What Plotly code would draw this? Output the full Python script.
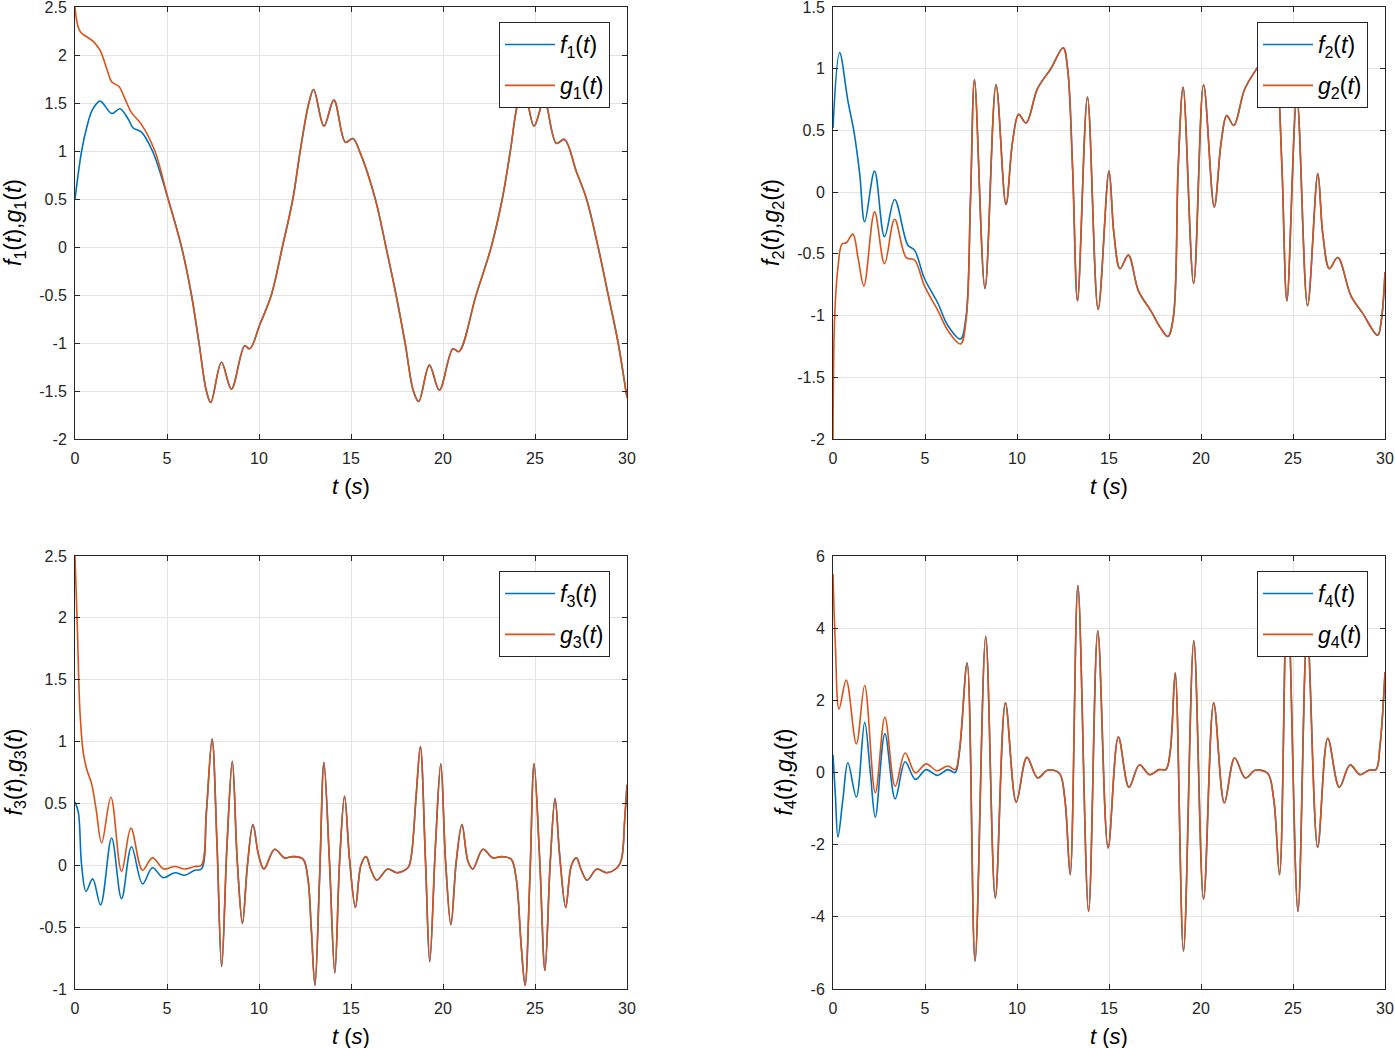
import plotly.graph_objects as go

# ---------------- data ----------------
X_TICKS = [0, 5, 10, 15, 20, 25, 30]
Y1_TICKS = [-2, -1.5, -1, -0.5, 0, 0.5, 1, 1.5, 2, 2.5]
Y2_TICKS = [-2, -1.5, -1, -0.5, 0, 0.5, 1, 1.5]
Y3_TICKS = [-1, -0.5, 0, 0.5, 1, 1.5, 2, 2.5]
Y4_TICKS = [-6, -4, -2, 0, 2, 4, 6]

# --- panel 1 ---
T1_HEAD_F = [0, 0.36, 0.63, 0.95, 1.36, 2.0, 2.44, 2.9, 3.16, 3.6, 4.21]
F1_HEAD = [0.5, 1.0, 1.24, 1.43, 1.52, 1.39, 1.44, 1.33, 1.24, 1.2, 1.0]
T1_HEAD_G = [0, 0.12, 0.3, 1.0, 1.36, 1.72, 2.0, 2.4, 2.7, 3.07, 3.6, 4.34]
G1_HEAD = [2.5, 2.33, 2.24, 2.14, 2.05, 1.86, 1.72, 1.67, 1.55, 1.4, 1.28, 1.0]
T1_TAIL = [5.06, 5.79, 6.33, 6.74, 7.14, 7.38, 7.96, 8.5, 9.22, 9.5, 10.04, 10.67,
           11.27, 11.84, 12.24, 12.71, 12.97, 13.53, 14.07, 14.7, 15.1, 15.5, 16.32,
           16.9, 17.45, 17.94, 18.39, 18.68, 19.26, 19.8, 20.54, 20.86, 21.8, 22.62,
           23.22, 23.66, 24.07, 24.4, 24.95, 25.5, 26.16, 26.6, 27.24, 27.8, 28.43,
           28.98, 29.52, 29.94, 30.0]
V1_TAIL = [0.5, 0.0, -0.5, -1.0, -1.5, -1.62, -1.2, -1.48, -1.03, -1.06, -0.81, -0.5,
           0.0, 0.5, 1.0, 1.5, 1.64, 1.26, 1.53, 1.09, 1.13, 0.98, 0.5,
           0.0, -0.5, -1.0, -1.5, -1.61, -1.23, -1.49, -1.06, -1.09, -0.5, 0.0,
           0.5, 1.0, 1.5, 1.64, 1.26, 1.53, 1.08, 1.12, 0.79, 0.5, 0.0,
           -0.5, -1.0, -1.5, -1.57]

# --- panel 2 ---
T2_HEAD_F = [0, 0.36, 0.81, 1.14, 1.45, 1.72, 2.26, 2.8, 3.35, 4.07, 4.43, 4.97,
             5.7, 6.24, 6.93, 7.23]
F2_HEAD = [0.52, 1.13, 0.74, 0.49, 0.15, -0.24, 0.17, -0.36, -0.06, -0.43, -0.47, -0.7,
           -0.9, -1.08, -1.19, -1.01]
T2_HEAD_G = [0, 0.09, 0.27, 0.49, 0.72, 1.08, 1.36, 1.68, 2.26, 2.8, 3.35, 3.98, 4.43,
             4.97, 5.7, 6.24, 6.93, 7.23]
G2_HEAD = [-2.0, -1.01, -0.61, -0.42, -0.41, -0.34, -0.53, -0.76, -0.16, -0.58, -0.22,
           -0.53, -0.55, -0.76, -0.96, -1.12, -1.23, -1.04]
T2_TAIL = [7.47, 7.69, 8.26, 8.86, 9.4, 9.76, 10.09, 10.49, 11.12, 11.84, 12.51, 12.75,
           13.02, 13.29, 13.83, 14.41, 15.0, 15.27, 15.6, 16.05, 16.6, 17.27, 17.8, 18.2,
           18.5, 18.76, 19.03, 19.6, 20.14, 20.72, 21.1, 21.4, 21.78, 22.36, 22.9, 23.89,
           24.13, 24.4, 24.67, 25.21, 25.79, 26.35, 26.62, 26.98, 27.43, 28.15, 28.78,
           29.6, 29.8, 30.0]
V2_TAIL = [-0.07, 0.91, -0.78, 0.87, -0.1, 0.41, 0.63, 0.56, 0.84, 1.0, 1.17, 1.0,
           0.2, -0.88, 0.77, -0.95, 0.17, -0.34, -0.62, -0.51, -0.8, -0.96, -1.1, -1.17,
           -1.01, 0.2, 0.85, -0.74, 0.87, -0.12, 0.41, 0.62, 0.54, 0.83, 0.97, 1.17,
           1.0, 0.2, -0.88, 0.77, -0.92, 0.15, -0.34, -0.62, -0.53, -0.84, -0.98,
           -1.16, -1.04, -0.65]

# --- panel 3 ---
T3_HEAD_F = [0, 0.18, 0.36, 0.6, 0.96, 1.39, 1.99, 2.53, 3.07, 3.67, 4.21, 4.79, 5.42,
             5.97, 6.51, 6.87]
F3_HEAD = [0.51, 0.43, 0.0, -0.21, -0.11, -0.32, 0.22, -0.27, 0.15, -0.15, -0.02, -0.1,
           -0.06, -0.08, -0.04, -0.03]
T3_HEAD_G = [0, 0.13, 0.27, 0.45, 0.63, 0.9, 1.14, 1.45, 1.95, 2.53, 3.04, 3.67, 4.21,
             4.83, 5.42, 5.97, 6.51, 6.87]
G3_HEAD = [2.5, 1.91, 1.24, 0.91, 0.78, 0.66, 0.46, 0.18, 0.55, -0.05, 0.3, -0.04, 0.06,
           -0.03, -0.01, -0.03, -0.01, 0.0]
T3_TAIL = [7.14, 7.45, 7.72, 7.97, 8.26, 8.55, 8.82, 9.1, 9.37, 9.67, 9.98, 10.27, 10.85,
           11.39, 11.84, 12.39, 12.66, 12.84, 13.04, 13.29, 13.53, 13.83, 14.12, 14.38,
           14.65, 14.92, 15.24, 15.54, 15.82, 16.09, 16.4, 17.0, 17.49, 18.09, 18.27,
           18.54, 18.77, 19.05, 19.28, 19.59, 19.88, 20.14, 20.43, 20.72, 21.03, 21.36,
           21.62, 22.17, 22.7, 23.2, 23.7, 23.98, 24.25, 24.46, 24.72, 24.95, 25.26,
           25.54, 25.83, 26.09, 26.34, 26.67, 26.98, 27.25, 27.52, 27.83, 28.37, 28.88,
           29.46, 29.7, 29.88, 30.0]
V3_TAIL = [0.43, 1.02, 0.16, -0.82, 0.16, 0.84, 0.03, -0.47, 0.0, 0.33, 0.08, -0.03, 0.13,
           0.06, 0.07, 0.05, -0.11, -0.51, -0.97, -0.11, 0.83, 0.03, -0.87, 0.03,
           0.56, 0.05, -0.34, 0.0, 0.07, -0.04, -0.12, -0.03, -0.06, -0.02, 0.07,
           0.56, 0.96, 0.03, -0.78, 0.16, 0.82, 0.03, -0.48, 0.03, 0.33, 0.03,
           -0.03, 0.13, 0.06, 0.07, 0.05, -0.11, -0.65, -0.97, -0.11, 0.82, 0.03,
           -0.85, 0.03, 0.54, 0.08, -0.34, 0.0, 0.06, -0.04, -0.12, -0.03, -0.06,
           -0.02, 0.05, 0.38, 0.65]

# --- panel 4 ---
T4_HEAD_F = [0, 0.13, 0.27, 0.54, 0.81, 1.27, 1.72, 2.03, 2.3, 2.82, 3.38, 3.92, 4.48,
             5.06, 5.66, 6.24, 6.64, 6.87]
F4_HEAD = [0.49, -0.64, -1.79, -0.73, 0.27, -0.68, 1.39, 0.0, -1.24, 1.07, -0.73, 0.3,
           -0.19, 0.08, -0.08, 0.08, 0.0, 0.56]
T4_HEAD_G = [0, 0.13, 0.33, 0.72, 1.27, 1.72, 2.3, 2.82, 3.38, 3.92, 4.48, 5.06, 5.66,
             6.24, 6.64, 6.87]
G4_HEAD = [5.5, 3.51, 1.76, 2.56, 0.79, 2.41, -0.56, 1.53, -0.38, 0.54, -0.01, 0.24, 0.05,
           0.18, 0.08, 0.61]
T4_TAIL = [7.29, 7.72, 8.3, 8.82, 9.37, 9.96, 10.54, 11.12, 11.66, 12.3, 12.6, 12.89,
           13.31, 13.89, 14.39, 14.95, 15.51, 16.09, 16.65, 17.21, 17.72, 18.09, 18.33,
           18.6, 19.05, 19.61, 20.14, 20.69, 21.27, 21.83, 22.41, 22.95, 23.62, 23.95,
           24.27, 24.69, 25.27, 25.77, 26.34, 26.89, 27.52, 28.1, 28.64, 29.15, 29.51,
           29.73, 30.0]
V4_TAIL = [3.03, -5.23, 3.77, -3.48, 1.93, -0.82, 0.42, -0.15, 0.06, -0.02, -0.73, -2.83,
           5.18, -3.85, 3.93, -2.09, 0.98, -0.41, 0.21, -0.06, 0.08, 0.08, 0.6,
           2.76, -4.95, 3.65, -3.51, 1.93, -0.84, 0.4, -0.15, 0.06, -0.02, -0.73,
           -2.83, 5.18, -3.85, 3.93, -2.07, 0.95, -0.41, 0.21, -0.06, 0.07, 0.08,
           0.75, 2.78]

# ---------------- styling ----------------
W, H = 1395, 1048
FONT = "Liberation Sans"
BLUE = "#0072BD"
ORANGE = "#D95319"
AXC = "#262626"
GRID = "#e3e3e3"

# pixel boxes of the four panels: (left, right, top, bottom)
BOXES = [(75, 627, 7, 439), (833, 1385, 7, 439), (75, 627, 556, 989), (833, 1385, 556, 989)]

panels = [
    (T1_HEAD_F, F1_HEAD, T1_HEAD_G, G1_HEAD, T1_TAIL, V1_TAIL, Y1_TICKS, [-2, 2.5]),
    (T2_HEAD_F, F2_HEAD, T2_HEAD_G, G2_HEAD, T2_TAIL, V2_TAIL, Y2_TICKS, [-2, 1.5]),
    (T3_HEAD_F, F3_HEAD, T3_HEAD_G, G3_HEAD, T3_TAIL, V3_TAIL, Y3_TICKS, [-1, 2.5]),
    (T4_HEAD_F, F4_HEAD, T4_HEAD_G, G4_HEAD, T4_TAIL, V4_TAIL, Y4_TICKS, [-6, 6]),
]

fig = go.Figure()
layout = dict(width=W, height=H, margin=dict(l=0, r=0, t=0, b=0),
              paper_bgcolor="white", plot_bgcolor="white",
              font=dict(family=FONT, color=AXC), annotations=[])


def lab(v):
    return f"{v:g}"


for i, (tf, fv, tg, gv, tt, vt, yt, yr) in enumerate(panels):
    n = i + 1
    sfx = "" if n == 1 else str(n)
    xa, ya = "x" + sfx, "y" + sfx
    leg = "legend" + sfx
    l, r, t, b = BOXES[i]
    xd = [l / W, r / W]
    yd = [1 - b / H, 1 - t / H]
    fname = f"<i>f</i><sub>{n}</sub>(<i>t</i>)"
    gname = f"<i>g</i><sub>{n}</sub>(<i>t</i>)"
    fig.add_trace(go.Scatter(x=list(tf) + list(tt), y=list(fv) + list(vt), mode="lines",
                             name=fname, xaxis=xa, yaxis=ya, legend=leg,
                             legendgroup=f"f{n}",
                             line=dict(color=BLUE, width=1.6, shape="spline", smoothing=1.0)))
    fig.add_trace(go.Scatter(x=list(tg) + list(tt), y=list(gv) + list(vt), mode="lines",
                             name=gname, xaxis=xa, yaxis=ya, legend=leg,
                             legendgroup=f"g{n}",
                             line=dict(color=ORANGE, width=1.6, shape="spline", smoothing=1.0)))
    common = dict(showgrid=True, gridcolor=GRID, gridwidth=1, zeroline=False,
                  showline=True, linecolor=AXC, linewidth=1, mirror="ticks",
                  ticks="inside", ticklen=5, tickcolor=AXC, tickwidth=1,
                  ticklabeloverflow="allow",
                  tickfont=dict(family=FONT, size=16, color=AXC), automargin=False)
    layout["xaxis" + sfx] = dict(domain=xd, anchor=ya, range=[0, 30], tickvals=X_TICKS,
                                 ticktext=[lab(v) for v in X_TICKS], ticklabelstandoff=5,
                                 **common)
    layout["yaxis" + sfx] = dict(domain=yd, anchor=xa, range=yr, tickvals=yt,
                                 ticktext=[lab(v) for v in yt], ticklabelstandoff=4,
                                 **common)
    layout[leg] = dict(x=(r - 17) / W, y=1 - (t + 15) / H, xanchor="right", yanchor="top",
                       bgcolor="white", bordercolor=AXC, borderwidth=1,
                       tracegroupgap=8, itemwidth=50,
                       font=dict(family=FONT, size=23, color="black"))
    # axis titles
    layout["annotations"].append(dict(text="<i>t</i> (<i>s</i>)", xref="paper", yref="paper",
                                      x=(l + r) / 2 / W, y=1 - (b + 47) / H,
                                      xanchor="center", yanchor="middle", showarrow=False,
                                      font=dict(family=FONT, size=22, color="black")))
    ytx = 15 if l < 400 else (773 if n == 2 else 785)
    layout["annotations"].append(dict(text=f"{fname},{gname}", xref="paper", yref="paper",
                                      x=ytx / W, y=1 - (t + b) / 2 / H, textangle=-90,
                                      xanchor="center", yanchor="middle", showarrow=False,
                                      font=dict(family=FONT, size=23, color="black")))

fig.update_layout(**layout)
fig.write_html("out.html", config={"displayModeBar": False},
               post_script="document.body.style.margin='0px';")
